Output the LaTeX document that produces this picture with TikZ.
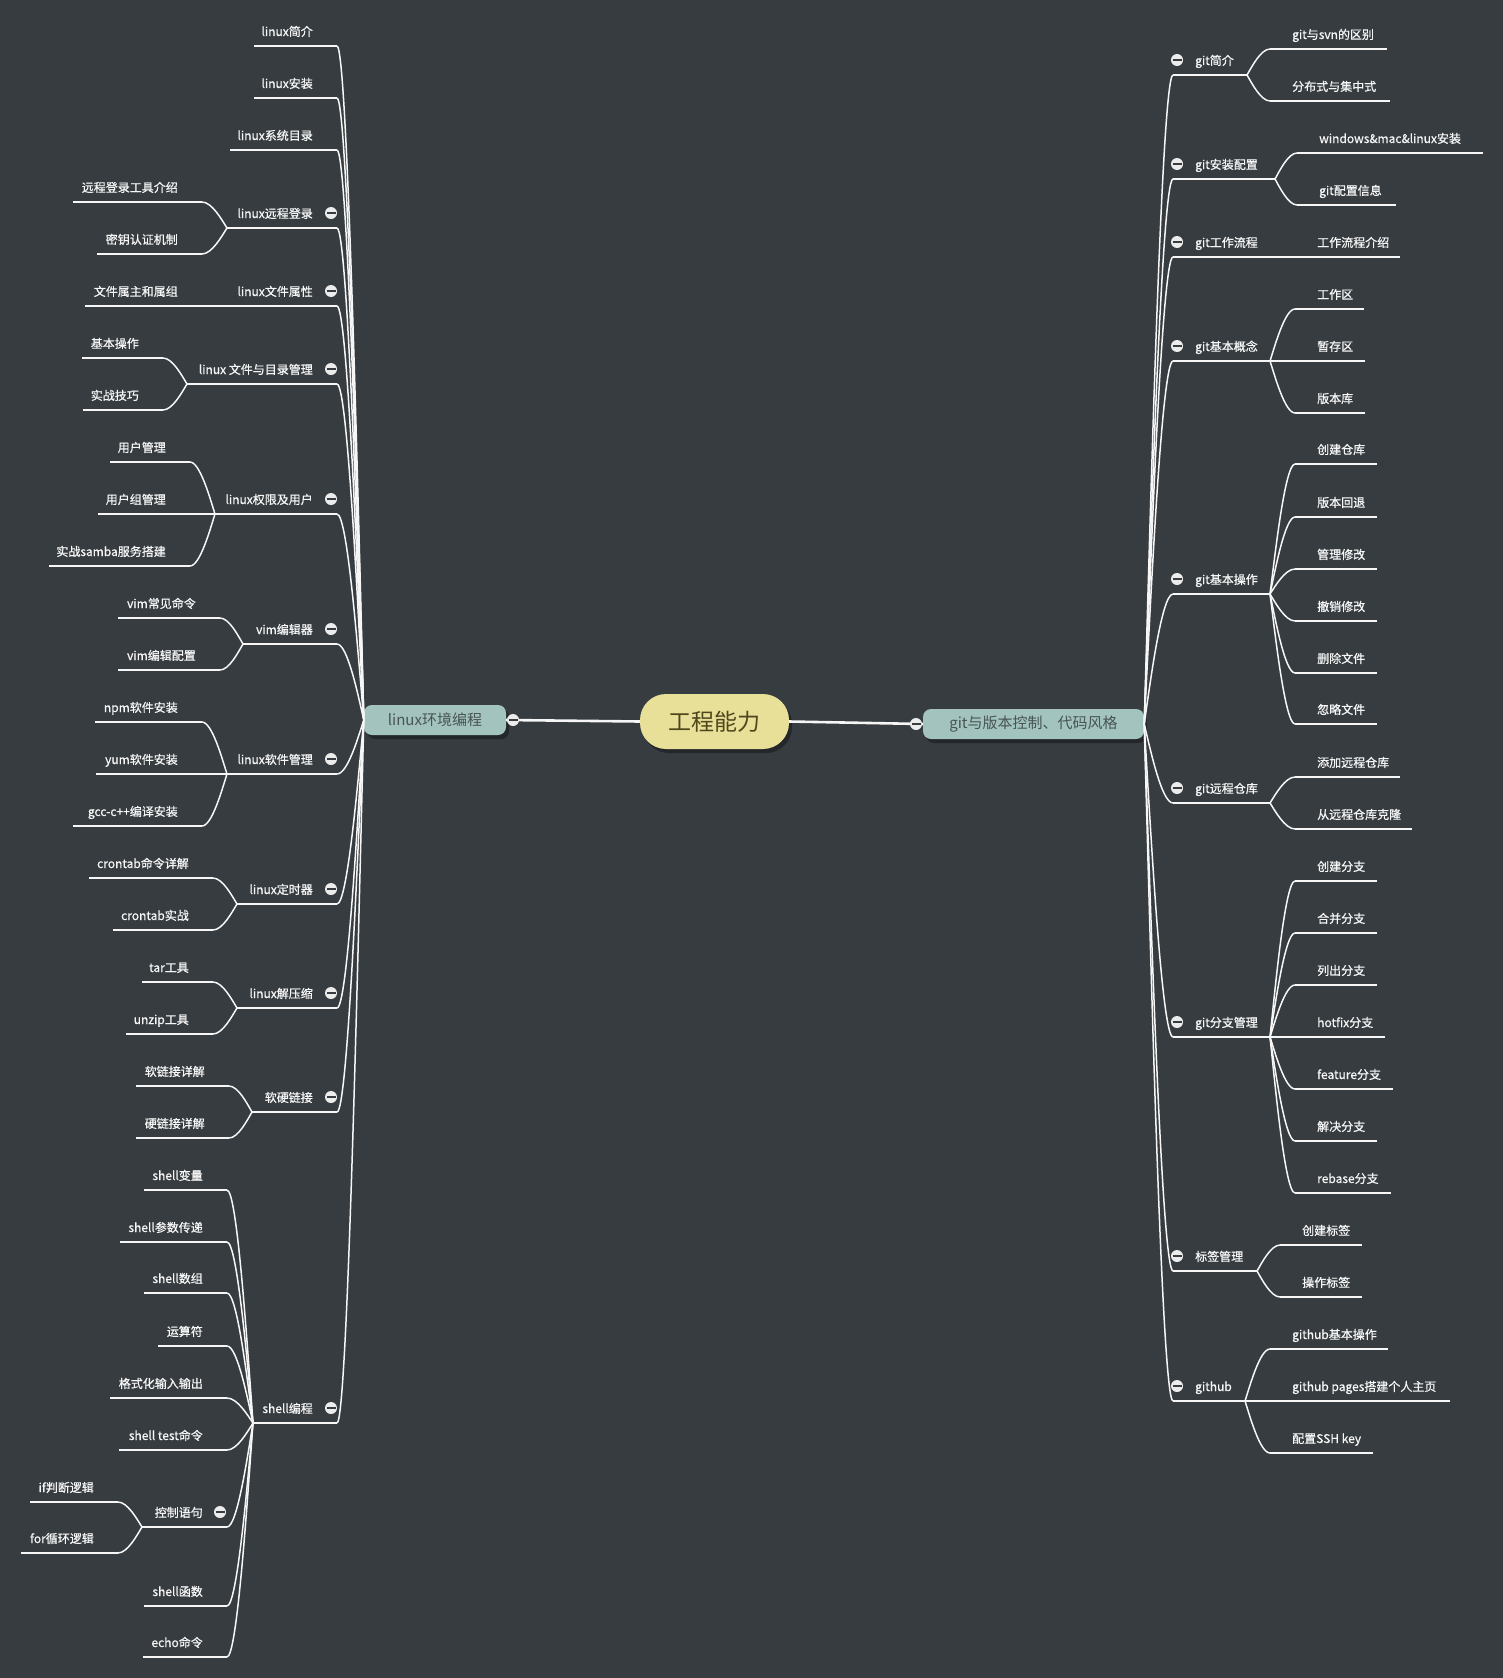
\documentclass[tikz,border=0pt]{standalone}
\usepackage{fontspec}
\setmainfont{Noto Sans CJK SC}
\newfontfamily\boldish{Noto Sans CJK SC}[FakeBold=0.7]
\usetikzlibrary{calc,shadows}
\definecolor{bg}{RGB}{54,60,64}
\definecolor{rootfill}{RGB}{232,223,152}
\definecolor{subfill}{RGB}{163,196,190}
\definecolor{rootText}{RGB}{78,70,28}
\definecolor{subText}{RGB}{72,84,84}
\definecolor{lineC}{RGB}{246,246,246}
\definecolor{cirC}{RGB}{236,236,236}
\definecolor{shadowC}{RGB}{33,37,40}
% left node: name, underline y, underline left x, underline right x, label
\newcommand\Ln[5]{%
  \coordinate (#1-l) at (#3,#2);
  \coordinate (#1-r) at (#4,#2);
  \draw[ul] (#1-l) -- (#1-r);
  \node[txt,anchor=base east] (#1) at ({#4-24},{#2-10}) {#5};}
% right node
\newcommand\Rn[5]{%
  \coordinate (#1-l) at (#3,#2);
  \coordinate (#1-r) at (#4,#2);
  \draw[ul] (#1-l) -- (#1-r);
  \node[txt,anchor=base west] (#1) at ({#3+22},{#2-10}) {#5};}
% connector from child end to parent branch point
\newcommand\cn[2]{%
  \draw[ln] let \p1=(#1), \p2=(#2) in (#1) .. controls ({\x1+0.4*(\x2-\x1)},{\y1}) and ({\x2+0.2*(\x1-\x2)},{\y2+0.3*(\y1-\y2)}) .. (#2);}
\newcommand\Cir[3]{\node[cir] (#1) at (#2,#3) {};}
\begin{document}
\begin{tikzpicture}[x=1pt,y=-1pt,
  txt/.style={inner sep=0pt, text=lineC, font=\boldish\fontsize{12}{14}\selectfont},
  ul/.style={draw=lineC, line width=1.6pt},
  ln/.style={draw=lineC, line width=1.5pt},
  rootln/.style={draw=lineC, line width=2.6pt},
  cir/.style={circle, fill=cirC, minimum size=12pt, inner sep=0pt,
    path picture={\draw[bg, line width=2pt] ([xshift=-4.5pt]path picture bounding box.center) -- ([xshift=4.5pt]path picture bounding box.center);}},
  rootbox/.style={rounded corners=26pt, fill=rootfill, minimum width=149pt, minimum height=55pt, inner sep=0pt,
    text=rootText, font=\fontsize{23}{26}\selectfont,
    drop shadow={shadow xshift=3pt, shadow yshift=-4pt, fill=shadowC, opacity=0.9}},
  subbox/.style={rounded corners=8pt, fill=subfill, minimum height=30pt, inner sep=0pt,
    text=subText, font=\fontsize{15}{18}\selectfont,
    drop shadow={shadow xshift=3pt, shadow yshift=-4pt, fill=shadowC, opacity=0.9}}
]
\fill[bg] (0,0) rectangle (1503,1678);
\useasboundingbox (0,0) rectangle (1503,1678);

% central nodes
\node[rootbox] (root) at (714.5,721.5) {工程能力};
\node[subbox, minimum width=142pt] (linux) at (435,720) {linux环境编程};
\node[subbox, minimum width=221pt] (git) at (1033.5,724) {git与版本控制、代码风格};
\draw[rootln] (root.west) -- (linux.east);
\draw[rootln] (root.east) -- (git.west);

% ---------------- left side ----------------
\Ln{L1}{46}{254}{337}{linux简介}
\Ln{L2}{98}{254}{337}{linux安装}
\Ln{L3}{150}{230}{337}{linux系统目录}
\Ln{L4}{228}{227}{337}{linux远程登录}
\Ln{L4a}{202}{73}{202}{远程登录工具介绍}
\Ln{L4b}{254}{97}{202}{密钥认证机制}
\Ln{L5}{306}{227}{337}{linux文件属性}
\Ln{L5a}{306}{85}{202}{文件属主和属组}
\Ln{L6}{384}{187}{337}{linux 文件与目录管理}
\Ln{L6a}{358}{82}{163}{基本操作}
\Ln{L6b}{410}{83}{163}{实战技巧}
\Ln{L7}{514}{215}{337}{linux权限及用户}
\Ln{L7a}{462}{110}{190}{用户管理}
\Ln{L7b}{514}{98}{190}{用户组管理}
\Ln{L7c}{566}{49}{190}{实战samba服务搭建}
\Ln{L8}{644}{243}{337}{vim编辑器}
\Ln{L8a}{618}{118}{220}{vim常见命令}
\Ln{L8b}{670}{118}{220}{vim编辑配置}
\Ln{L9}{774}{227}{337}{linux软件管理}
\Ln{L9a}{722}{95}{202}{npm软件安装}
\Ln{L9b}{774}{96}{202}{yum软件安装}
\Ln{L9c}{826}{73}{202}{gcc-c++编译安装}
\Ln{L10}{904}{237}{337}{linux定时器}
\Ln{L10a}{878}{89}{213}{crontab命令详解}
\Ln{L10b}{930}{113}{213}{crontab实战}
\Ln{L11}{1008}{237}{337}{linux解压缩}
\Ln{L11a}{982}{142}{213}{tar工具}
\Ln{L11b}{1034}{126}{213}{unzip工具}
\Ln{L12}{1112}{252}{337}{软硬链接}
\Ln{L12a}{1086}{136}{229}{软链接详解}
\Ln{L12b}{1138}{136}{229}{硬链接详解}
\Ln{L13}{1423}{253}{337}{shell编程}
\Ln{L13a}{1190}{144}{227}{shell变量}
\Ln{L13b}{1242}{120}{227}{shell参数传递}
\Ln{L13c}{1293}{144}{227}{shell数组}
\Ln{L13d}{1346}{158}{227}{运算符}
\Ln{L13e}{1398}{110}{227}{格式化输入输出}
\Ln{L13f}{1450}{119}{227}{shell test命令}
\Ln{L13g}{1527}{142}{227}{控制语句}
\Ln{L13g1}{1502}{30}{118}{if判断逻辑}
\Ln{L13g2}{1553}{21}{118}{for循环逻辑}
\Ln{L13h}{1606}{144}{227}{shell函数}
\Ln{L13i}{1657}{143}{227}{echo命令}

\foreach \k in {L1,L2,L3,L4,L5,L6,L7,L8,L9,L10,L11,L12,L13}{\cn{\k-r}{linux.west}}
\foreach \k in {L4a,L4b}{\cn{\k-r}{L4-l}}
\cn{L5a-r}{L5-l}
\foreach \k in {L6a,L6b}{\cn{\k-r}{L6-l}}
\foreach \k in {L7a,L7b,L7c}{\cn{\k-r}{L7-l}}
\foreach \k in {L8a,L8b}{\cn{\k-r}{L8-l}}
\foreach \k in {L9a,L9b,L9c}{\cn{\k-r}{L9-l}}
\foreach \k in {L10a,L10b}{\cn{\k-r}{L10-l}}
\foreach \k in {L11a,L11b}{\cn{\k-r}{L11-l}}
\foreach \k in {L12a,L12b}{\cn{\k-r}{L12-l}}
\foreach \k in {L13a,L13b,L13c,L13d,L13e,L13f,L13g,L13h,L13i}{\cn{\k-r}{L13-l}}
\foreach \k in {L13g1,L13g2}{\cn{\k-r}{L13g-l}}

% ---------------- right side ----------------
\Rn{R1}{75}{1173}{1247}{git简介}
\Rn{R1a}{49}{1270}{1387}{git与svn的区别}
\Rn{R1b}{101}{1270}{1390}{分布式与集中式}
\Rn{R2}{179}{1173}{1275}{git安装配置}
\Rn{R2a}{153}{1297}{1483}{windows\&mac\&linux安装}
\Rn{R2b}{205}{1297}{1396}{git配置信息}
\Rn{R3}{257}{1173}{1270}{git工作流程}
\Rn{R3a}{257}{1295}{1400}{工作流程介绍}
\Rn{R4}{361}{1173}{1270}{git基本概念}
\Rn{R4a}{309}{1295}{1364}{工作区}
\Rn{R4b}{361}{1295}{1365}{暂存区}
\Rn{R4c}{413}{1295}{1365}{版本库}
\Rn{R5}{594}{1173}{1270}{git基本操作}
\Rn{R5a}{464}{1295}{1377}{创建仓库}
\Rn{R5b}{517}{1295}{1377}{版本回退}
\Rn{R5c}{569}{1295}{1377}{管理修改}
\Rn{R5d}{621}{1295}{1377}{撤销修改}
\Rn{R5e}{673}{1295}{1377}{删除文件}
\Rn{R5f}{724}{1295}{1377}{忽略文件}
\Rn{R6}{803}{1173}{1270}{git远程仓库}
\Rn{R6a}{777}{1295}{1400}{添加远程仓库}
\Rn{R6b}{829}{1295}{1412}{从远程仓库克隆}
\Rn{R7}{1037}{1173}{1270}{git分支管理}
\Rn{R7a}{881}{1295}{1377}{创建分支}
\Rn{R7b}{933}{1295}{1377}{合并分支}
\Rn{R7c}{985}{1295}{1377}{列出分支}
\Rn{R7d}{1037}{1295}{1385}{hotfix分支}
\Rn{R7e}{1089}{1295}{1393}{feature分支}
\Rn{R7f}{1141}{1295}{1377}{解决分支}
\Rn{R7g}{1193}{1295}{1391}{rebase分支}
\Rn{R8}{1271}{1173}{1257}{标签管理}
\Rn{R8a}{1245}{1280}{1362}{创建标签}
\Rn{R8b}{1297}{1280}{1362}{操作标签}
\Rn{R9}{1401}{1173}{1245}{github}
\Rn{R9a}{1349}{1270}{1388}{github基本操作}
\Rn{R9b}{1401}{1270}{1450}{github pages搭建个人主页}
\Rn{R9c}{1453}{1270}{1373}{配置SSH key}

\foreach \k in {R1,R2,R3,R4,R5,R6,R7,R8,R9}{\cn{\k-l}{git.east}}
\foreach \k in {R1a,R1b}{\cn{\k-l}{R1-r}}
\foreach \k in {R2a,R2b}{\cn{\k-l}{R2-r}}
\cn{R3a-l}{R3-r}
\foreach \k in {R4a,R4b,R4c}{\cn{\k-l}{R4-r}}
\foreach \k in {R5a,R5b,R5c,R5d,R5e,R5f}{\cn{\k-l}{R5-r}}
\foreach \k in {R6a,R6b}{\cn{\k-l}{R6-r}}
\foreach \k in {R7a,R7b,R7c,R7d,R7e,R7f,R7g}{\cn{\k-l}{R7-r}}
\foreach \k in {R8a,R8b}{\cn{\k-l}{R8-r}}
\foreach \k in {R9a,R9b,R9c}{\cn{\k-l}{R9-r}}

% ---------------- collapse markers ----------------
\Cir{cL4}{331}{213}
\Cir{cL5}{331}{291}
\Cir{cL6}{331}{369}
\Cir{cL7}{331}{499}
\Cir{cL8}{331}{629}
\Cir{cL9}{331}{759}
\Cir{cL10}{331}{889}
\Cir{cL11}{331}{993}
\Cir{cL12}{331}{1097}
\Cir{cL13}{331}{1408}
\Cir{cL13g}{220}{1512}
\Cir{cR1}{1177}{60}
\Cir{cR2}{1177}{164}
\Cir{cR3}{1177}{242}
\Cir{cR4}{1177}{346}
\Cir{cR5}{1177}{579}
\Cir{cR6}{1177}{788}
\Cir{cR7}{1177}{1022}
\Cir{cR8}{1177}{1256}
\Cir{cR9}{1177}{1386}
\Cir{cLin}{513}{720}
\Cir{cGit}{916}{724}
\end{tikzpicture}
\end{document}
